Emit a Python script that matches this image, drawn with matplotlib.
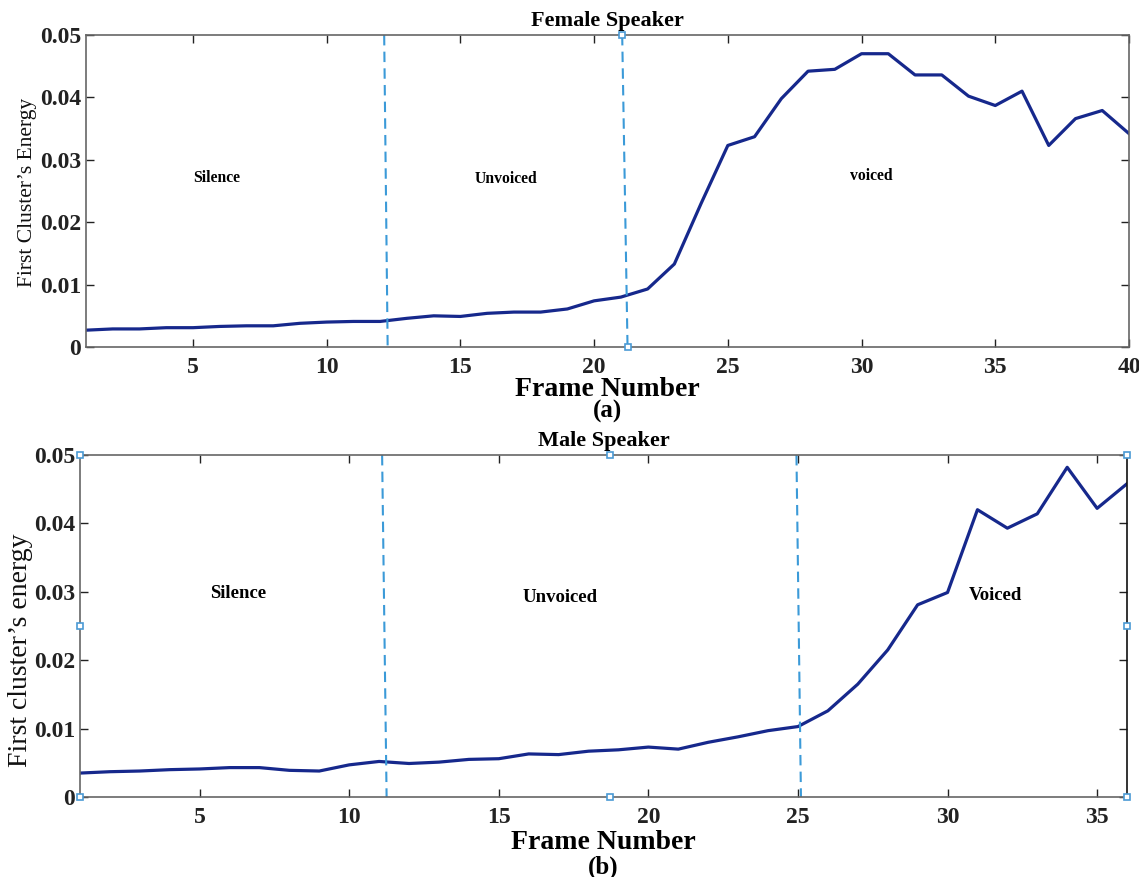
import matplotlib
matplotlib.use('Agg')
import matplotlib.pyplot as plt
import numpy as np

plt.rcParams['font.family'] = ['Liberation Serif', 'DejaVu Serif']
plt.rcParams['font.weight'] = 'bold'

# (a) Female speaker
female_frames = np.arange(1, 41)
female_energy = [0.0027, 0.0029, 0.0029, 0.0031, 0.0031, 0.0033, 0.0034, 0.0034, 0.0038, 0.0040,
                 0.0041, 0.0041, 0.0046, 0.0050, 0.0049, 0.0054, 0.0056, 0.0056, 0.0061, 0.0074,
                 0.0080, 0.0093, 0.0133, 0.0230, 0.0323, 0.0337, 0.0398, 0.0442, 0.0445, 0.0470,
                 0.0470, 0.0436, 0.0436, 0.0402, 0.0387, 0.0410, 0.0323, 0.0366, 0.0379, 0.0342]
female_bounds = [(12.15, 12.28), (21.05, 21.25)]   # (x at top, x at bottom) of the dashed boundaries
female_regions = [('Silence', 5.9, 0.0271), ('Unvoiced', 16.7, 0.0269), ('voiced', 30.35, 0.0274)]

# (b) Male speaker
male_frames = np.arange(1, 37)
male_energy = [0.0035, 0.0037, 0.0038, 0.0040, 0.0041, 0.0043, 0.0043, 0.0039, 0.0038, 0.0047,
               0.0052, 0.0049, 0.0051, 0.0055, 0.0056, 0.0063, 0.0062, 0.0067, 0.0069, 0.0073,
               0.0070, 0.0080, 0.0088, 0.0097, 0.0103, 0.0126, 0.0165, 0.0215, 0.0281, 0.0299,
               0.0420, 0.0393, 0.0414, 0.0482, 0.0422, 0.0458]
male_bounds = [(11.1, 11.25), (24.95, 25.1)]
male_regions = [('Silence', 6.3, 0.0297), ('Unvoiced', 17.05, 0.0292), ('Voiced', 31.6, 0.0295)]

y_ticks = [0, 0.01, 0.02, 0.03, 0.04, 0.05]
y_tick_labels = ['0', '0.01', '0.02', '0.03', '0.04', '0.05']

LINE = '#16288c'
DASH = '#3b9ad8'
HANDLE = '#4a9ad4'

fig = plt.figure(figsize=(11.39, 8.77), dpi=100)
ax1 = fig.add_axes([0.0755, 0.6043, 0.9157, 0.3558])
ax2 = fig.add_axes([0.0702, 0.0912, 0.9193, 0.3900])


def style_axes(ax, frames, title, ylabel, tag, ylab_size, ylab_pos):
    ax.set_xlim(frames[0], frames[-1])
    ax.set_ylim(0, 0.05)
    ax.set_xticks(np.arange(5, frames[-1] + 1, 5))
    ax.set_yticks(y_ticks)
    ax.set_yticklabels(y_tick_labels)
    ax.tick_params(direction='in', top=True, right=True, length=6, width=1, labelsize=17, colors='#222222')
    ax.tick_params(axis='x', pad=7)
    for lab in ax.get_xticklabels() + ax.get_yticklabels():
        lab.set_fontweight('bold')
    for sp in ax.spines.values():
        sp.set_color('#666666')
        sp.set_linewidth(1.2)
    ax.set_title(title, fontsize=16, fontweight='bold', pad=6.5)
    ax.set_xlabel('Frame Number', fontsize=20, fontweight='bold')
    ax.xaxis.set_label_coords(0.5, -0.095)
    ax.set_ylabel(ylabel, fontsize=ylab_size, fontweight='normal', color='#111111')
    ax.yaxis.set_label_coords(*ylab_pos)
    ax.text(0.5, -0.205, tag, transform=ax.transAxes, ha='center', va='center',
            fontsize=18, fontweight='bold')


def handle(ax, x, y, coords):
    tr = ax.transAxes if coords == 'axes' else ax.transData
    ax.plot([x], [y], marker='s', ms=5, mfc='white', mec=HANDLE, mew=1.2,
            transform=tr, clip_on=False, zorder=5)


# top plot
ax1.plot(female_frames, female_energy, color=LINE, linewidth=2.3)
for xt, xb in female_bounds:
    ax1.plot([xt, xb], [0.05, 0], color=DASH, linestyle='--', linewidth=1.5, dashes=(5, 3))
for name, x, y in female_regions:
    ax1.text(x, y, name, ha='center', va='center', fontsize=11.3, fontweight='bold')
style_axes(ax1, female_frames, 'Female Speaker', 'First Cluster\u2019s Energy', '(a)',
           15.5, (-0.047, 0.495))
handle(ax1, female_bounds[1][0], 0.05, 'data')
handle(ax1, female_bounds[1][1], 0.0, 'data')

# bottom plot
ax2.plot(male_frames, male_energy, color=LINE, linewidth=2.3)
for xt, xb in male_bounds:
    ax2.plot([xt, xb], [0.05, 0], color=DASH, linestyle='--', linewidth=1.5, dashes=(5, 3))
for name, x, y in male_regions:
    ax2.text(x, y, name, ha='center', va='center', fontsize=13.5, fontweight='bold')
style_axes(ax2, male_frames, 'Male Speaker', 'First cluster\u2019s energy', '(b)',
           20, (-0.045, 0.43))
ax2.spines['right'].set_color('#111111')
for hx in (0, 0.506, 1):
    for hy in (0, 0.5, 1):
        if hx == 0.506 and hy == 0.5:
            continue
        handle(ax2, hx, hy, 'axes')

fig.savefig('out.png', dpi=100)
